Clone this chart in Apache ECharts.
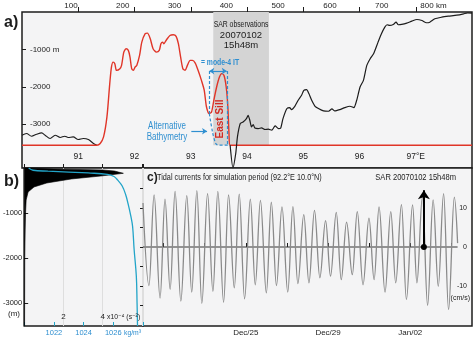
<!DOCTYPE html>
<html><head><meta charset="utf-8">
<script src="https://cdn.jsdelivr.net/npm/echarts/dist/echarts.min.js"></script>
<style>html,body{margin:0;padding:0;background:#fff}#c{width:474px;height:339px}</style>
</head><body><div id="c"></div>
<script>
// ---------- Panel a : bathymetry section (lon °E, depth m) ----------
const lonTicks = [91, 92, 93, 94, 95, 96, 97];
const kmTicks = [100, 200, 300, 400, 500, 600, 700, 800];
const depthTicksA = [-1000, -2000, -3000];
const bathyLonL = [90.00, 90.08, 90.17, 90.26, 90.35, 90.41, 90.50, 90.59, 90.68, 90.76, 90.82, 90.91, 91.00, 91.09, 91.18, 91.27, 91.33];
const bathyDepthL = [-3293, -3248, -3320, -3267, -3232, -3293, -3381, -3293, -3355, -3320, -3355, -3339, -3408, -3381, -3408, -3515, -3560];
const modelLon = [90.00, 91.33, 91.39, 91.45, 91.51, 91.56, 91.59, 91.62, 91.65, 91.68, 91.74, 91.77, 91.81, 91.85, 91.89, 91.92, 91.95, 91.98, 92.01, 92.04, 92.09, 92.13, 92.19, 92.23, 92.28, 92.33, 92.39, 92.44, 92.47, 92.50, 92.52, 92.57, 92.63, 92.69, 92.74, 92.78, 92.82, 92.86, 92.90, 92.94, 92.99, 93.03, 93.08, 93.13, 93.19, 93.24, 93.28, 93.33, 93.37, 93.41, 93.46, 93.51, 93.55, 93.59, 93.63, 93.66, 93.68, 93.70, 98.00];
const modelDepth = [-3560, -3560, -3515, -3339, -2805, -1915, -1472, -1339, -1381, -1560, -1515, -1427, -1072, -981, -1027, -1205, -1515, -1560, -1472, -1427, -1160, -805, -581, -565, -715, -981, -1072, -1027, -848, -805, -848, -741, -627, -608, -653, -848, -1205, -1515, -1560, -1427, -1293, -1293, -1365, -1560, -1827, -2093, -2539, -2715, -2672, -2360, -2005, -1739, -1648, -1693, -2005, -2539, -3248, -3560, -3560];
const bathyLonR = [93.70, 93.75, 93.80, 93.83, 93.88, 93.93, 93.99, 94.02, 94.05, 94.08, 94.11, 94.14, 94.20, 94.26, 94.32, 94.38, 94.44, 94.50, 94.56, 94.60, 94.64, 94.71, 94.76, 94.79, 94.85, 94.91, 94.97, 95.01, 95.06, 95.10, 95.15, 95.21, 95.27, 95.36, 95.45, 95.51, 95.56, 95.65, 95.74, 95.83, 95.90, 95.95, 96.01, 96.07, 96.13, 96.19, 96.25, 96.33, 96.39, 96.45, 96.49, 96.54, 96.60, 96.65, 96.69, 96.75, 96.84, 96.93, 97.02, 97.11, 97.19, 97.25, 97.34, 97.46, 97.58, 97.73, 97.85, 97.92, 98.00];
const bathyDepthR = [-3560, -4170, -3781, -3339, -2981, -2939, -2848, -2760, -2893, -3072, -3008, -3099, -3115, -3099, -3141, -3133, -3160, -3045, -3115, -3099, -2850, -2581, -2555, -2608, -2520, -2360, -2227, -2093, -2075, -2181, -2360, -2520, -2581, -2645, -2653, -2592, -2645, -2608, -2555, -2520, -2555, -2360, -2005, -1827, -1427, -1248, -1115, -805, -581, -405, -341, -360, -333, -272, -341, -333, -299, -245, -200, -227, -288, -272, -181, -139, -112, -85, -48, -21, -32];
const altLon = [93.33, 93.37, 93.41, 93.46, 93.52, 93.70];
const altDepth = [-2715, -3072, -3355, -3541, -3560, -3560];
const modelBaseDepth = -3560;
const sarBand = [93.40, 94.39];
const bracketLon = [93.33, 93.64];
const bracketDepth = -1580;
const altArrow = [[93.01, -3187], [93.29, -3187]];

// ---------- Panel b : N^2 (1e-4 s^-2) and density profiles ----------
const depthTicksB = [-1000, -2000, -3000];
const n2Depth = [0, -22, -44, -67, -90, -118, -178, -244, -333, -422, -533, -711, -1000, -1377, -2000, -3510];
const n2Val = [0.2, 1.5, 4.0, 4.6, 4.8, 5.05, 3.9, 2.4, 1.15, 0.5, 0.2, 0.1, 0.07, 0.05, 0.03, 0.02];
const rhoDepth = [0, -50, -70, -90, -110, -140, -190, -270, -400, -600, -800, -1050, -1300, -1800, -2400, -3000, -3510];
const rhoVal = [1020.3, 1020.6, 1021.6, 1023.0, 1024.3, 1025.6, 1026.05, 1026.3, 1026.6, 1026.84, 1027.0, 1027.17, 1027.3, 1027.4, 1027.55, 1027.6, 1027.63];

// ---------- Panel c : tidal current (days since Dec 20 2006, cm/s) ----------
const tideDay = [0.00, 0.29, 0.54, 0.83, 1.07, 1.32, 1.56, 1.84, 2.13, 2.37, 2.62, 2.86, 3.14, 3.40, 3.64, 3.92, 4.16, 4.44, 4.68, 4.94, 5.22, 5.46, 5.71, 6.00, 6.24, 6.49, 6.76, 7.04, 7.29, 7.53, 7.82, 8.07, 8.34, 8.60, 8.88, 9.12, 9.40, 9.64, 9.90, 10.18, 10.42, 10.70, 10.99, 11.24, 11.48, 11.77, 12.05, 12.29, 12.57, 12.81, 13.11, 13.32, 13.59, 13.84, 14.11, 14.36, 14.62, 14.86, 15.14, 15.30];
const tideVel = [11.3, -9.9, 13.4, -13.1, 12.3, -10.9, 14.3, -13.9, 13.2, -11.6, 14.5, -14.5, 13.7, -11.4, 14.3, -14.2, 13.4, -10.5, 13.6, -13.3, 12.3, -9.7, 12.0, -11.8, 11.5, -9.9, 10.3, -11.6, 10.4, -9.4, 8.3, -9.2, 9.4, -7.9, 6.8, -7.5, 8.9, -8.4, 6.4, -7.1, 9.1, -9.7, 7.4, -8.4, 10.3, -11.6, 9.1, -9.2, 10.9, -13.5, 10.8, -9.2, 13.0, -15.0, 12.1, -10.1, 13.7, -16.1, 12.8, 1.0];
const dayTicks = [1, 3, 5, 7, 9, 11, 13, 15];
const dayLabelVals = [5, 9, 13];
const dayLabelText = ['Dec/25', 'Dec/29', 'Jan/02'];
const velTicks = [-15, -10, -5, 0, 5, 10, 15];
const velLabels = [-10, 0, 10];
const sarDay = 13.66;
const sarArrowTop = 14.6;

// ---------- styling ----------
const SANS = '"Liberation Sans","DejaVu Sans",sans-serif';
const INK = '#1c1c1c';
const RED = '#e03528';
const BLUE = '#2f8fd0';
const CYAN = '#22a4c8';

const zip = (a, b) => a.map((v, i) => [v, b[i]]);
const lab = (extra) => Object.assign({ fontFamily: SANS, fontSize: 8, color: INK }, extra);
const gridStyle = { show: true, backgroundColor: '#f4f4f5', borderColor: INK, borderWidth: 1.5 };
const txt = (x, y, text, font, fill, extra, sx) => Object.assign({
  type: 'text', x: x, y: y, z: 100, scaleX: sx || 1,
  style: Object.assign({ text: text, font: font, fill: fill, verticalAlign: 'middle' }, extra || {})
});

const option = {
  animation: false,
  backgroundColor: '#ffffff',
  textStyle: { fontFamily: SANS },
  grid: [
    Object.assign({ left: 22, top: 12, width: 450, height: 156 }, gridStyle),
    Object.assign({ left: 22, top: 168, width: 121, height: 158 }, gridStyle),
    Object.assign({ left: 143, top: 168, width: 329, height: 158 }, gridStyle)
  ],
  xAxis: [
    { gridIndex: 0, type: 'value', min: 90, max: 98, position: 'bottom',
      axisLine: { show: false }, splitLine: { show: false },
      axisTick: { inside: true, length: 5, customValues: lonTicks, lineStyle: { color: INK } },
      axisLabel: lab({ inside: true, margin: 7, fontSize: 8.5, customValues: lonTicks, formatter: v => v === 97 ? '97°E' : String(v) }) },
    { gridIndex: 0, type: 'value', min: 5.4, max: 874.4, position: 'top',
      axisLine: { show: false }, splitLine: { show: false }, axisTick: { show: false },
      axisLabel: lab({ margin: 2, customValues: kmTicks, formatter: v => v === 800 ? '800 km' : String(v) }) },
    { gridIndex: 1, type: 'value', min: 0, max: 6.05, interval: 2, position: 'bottom',
      axisLine: { show: false }, splitLine: { show: true, lineStyle: { color: '#dedede', width: 1 } },
      axisTick: { inside: true, length: 4, lineStyle: { color: INK } },
      axisLabel: lab({ inside: true, margin: 5, formatter: v => (v === 2 || v === 4) ? String(v) : '' }) },
    { gridIndex: 1, type: 'value', min: 1020, max: 1028, interval: 2, position: 'bottom',
      axisLine: { show: false }, splitLine: { show: false },
      axisTick: { inside: true, length: 4, lineStyle: { color: CYAN } },
      axisLabel: lab({ margin: 3, fontSize: 7.5, color: BLUE, formatter: v => (v > 1020 && v < 1028) ? String(v) : '' }) },
    { gridIndex: 2, type: 'value', min: 0, max: 16, position: 'bottom',
      axisLine: { show: false }, splitLine: { show: false },
      axisTick: { inside: true, length: 4, customValues: dayTicks, lineStyle: { color: INK } },
      axisLabel: lab({ margin: 3, fontSize: 8, customValues: dayLabelVals, formatter: v => dayLabelText[dayLabelVals.indexOf(v)] || '' }) }
  ],
  yAxis: [
    { gridIndex: 0, type: 'value', min: -4170, max: 0,
      axisLine: { show: false }, splitLine: { show: false },
      axisTick: { inside: true, length: 4, customValues: depthTicksA, lineStyle: { color: INK } },
      axisLabel: lab({ inside: true, margin: 8, customValues: depthTicksA, formatter: v => v === -1000 ? '-1000 m' : String(v) }) },
    { gridIndex: 1, type: 'value', min: -3510, max: 0,
      axisLine: { show: false }, splitLine: { show: false },
      axisTick: { inside: true, length: 4, customValues: depthTicksB, lineStyle: { color: INK } },
      axisLabel: lab({ margin: 2, fontSize: 7.5, customValues: depthTicksB, formatter: v => String(v) }) },
    { gridIndex: 2, type: 'value', min: -20.3, max: 20.3, position: 'right',
      axisLine: { show: false }, splitLine: { show: false },
      axisTick: { inside: true, length: 3, customValues: velTicks, lineStyle: { color: INK } },
      axisLabel: lab({ inside: true, margin: 5, fontSize: 7, customValues: velLabels, formatter: v => String(v) }) }
  ],
  series: [
    { type: 'line', xAxisIndex: 0, yAxisIndex: 0, data: zip(bathyLonL, bathyDepthL),
      symbol: 'none', smooth: 0.3, lineStyle: { color: INK, width: 1.1 },
      markArea: { silent: true, itemStyle: { color: '#d4d4d4' },
        data: [[{ coord: [sarBand[0], 0] }, { coord: [sarBand[1], modelBaseDepth] }]] } },
    { type: 'line', xAxisIndex: 0, yAxisIndex: 0, data: zip(modelLon, modelDepth),
      symbol: 'none', smooth: 0.25, lineStyle: { color: RED, width: 1.4 } },
    { type: 'line', xAxisIndex: 0, yAxisIndex: 0, data: zip(bathyLonR, bathyDepthR),
      symbol: 'none', smooth: 0.2, lineStyle: { color: INK, width: 1.2 } },
    { type: 'line', xAxisIndex: 0, yAxisIndex: 0, data: zip(altLon, altDepth),
      symbol: 'none', smooth: 0.4, lineStyle: { color: BLUE, width: 1.2, type: [3, 2] },
      markLine: { silent: true, symbol: ['none', 'none'], symbolSize: 5, label: { show: false },
        lineStyle: { color: BLUE, width: 1.2, type: [3, 2] },
        data: [
          [{ coord: [bracketLon[0], bracketDepth] }, { coord: [bracketLon[0], altDepth[0]] }],
          [{ coord: [bracketLon[1], bracketDepth] }, { coord: [bracketLon[1], modelBaseDepth] }],
          [{ coord: [bracketLon[0], bracketDepth], symbol: 'arrow', lineStyle: { type: 'solid', width: 1.2 } },
           { coord: [bracketLon[1], bracketDepth], symbol: 'arrow' }],
          [{ coord: altArrow[0], lineStyle: { type: 'solid', width: 1.2 } },
           { coord: altArrow[1], symbol: 'arrow' }]
        ] } },
    { type: 'custom', xAxisIndex: 2, yAxisIndex: 1, data: [[0, 0]], silent: true,
      renderItem: (params, api) => {
        const pts = [api.coord([0, n2Depth[0]])];
        n2Depth.forEach((d, i) => pts.push(api.coord([n2Val[i], d])));
        pts.push(api.coord([0, n2Depth[n2Depth.length - 1]]));
        return { type: 'polygon', shape: { points: pts }, style: { fill: '#000', stroke: '#000', lineWidth: 0.6 } };
      } },
    { type: 'line', xAxisIndex: 3, yAxisIndex: 1, data: zip(rhoVal, rhoDepth),
      symbol: 'none', smooth: 0.4, lineStyle: { color: CYAN, width: 1.3 } },
    { type: 'line', xAxisIndex: 4, yAxisIndex: 2,
      data: [[tideDay[0], 0], [tideDay[tideDay.length - 1], 0]],
      symbol: 'none', lineStyle: { color: '#333', width: 1 } },
    { type: 'line', xAxisIndex: 4, yAxisIndex: 2, data: zip(tideDay, tideVel),
      symbol: 'none', smooth: 0.38, smoothMonotone: 'x', lineStyle: { color: '#8a8a8a', width: 1.3 },
      markLine: { silent: true, label: { show: false }, lineStyle: { color: '#000', width: 2, type: 'solid' },
        data: [[{ coord: [sarDay, 0], symbol: 'circle', symbolSize: 6 },
                { coord: [sarDay, sarArrowTop], symbol: 'arrow', symbolSize: 9 }]] } }
  ],
  graphic: [
    txt(4, 23, 'a)', 'bold 16px ' + SANS, INK),
    txt(4, 182, 'b)', 'bold 16px ' + SANS, INK),
    txt(147, 178, 'c)', 'bold 12px ' + SANS, INK),
    txt(157, 178, 'Tidal currents for simulation period (92.2°E 10.0°N)', '9px ' + SANS, INK, null, 0.81),
    txt(456, 178, 'SAR 20070102 15h48m', '9px ' + SANS, INK, { align: 'right' }, 0.84),
    txt(241, 24, 'SAR observations', '9.5px ' + SANS, INK, { align: 'center' }, 0.72),
    txt(241, 35, '20070102', '9.5px ' + SANS, INK, { align: 'center' }),
    txt(241, 45, '15h48m', '9.5px ' + SANS, INK, { align: 'center' }),
    txt(220, 63, '= mode-4 IT', 'bold 9px ' + SANS, BLUE, { align: 'center' }, 0.76),
    txt(167, 126.5, 'Alternative', '10px ' + SANS, BLUE, { align: 'center' }, 0.8),
    txt(167, 137, 'Bathymetry', '10px ' + SANS, BLUE, { align: 'center' }, 0.8),
    Object.assign(txt(220, 119, 'East Sill', 'bold 10px ' + SANS, '#d42a22', { align: 'center' }), { rotation: Math.PI / 2 }),
    txt(20, 314, '(m)', '8px ' + SANS, INK, { align: 'right' }),
    txt(107, 317, 'x10⁻⁴ (s⁻²)', '8px ' + SANS, INK, null, 0.85),
    txt(124, 333, 'kg/m³', '8px ' + SANS, BLUE, null, 0.85),
    txt(470, 298, '(cm/s)', '7px ' + SANS, INK, { align: 'right' })
  ]
};

const chart = echarts.init(document.getElementById('c'), null, { renderer: 'canvas' });
chart.setOption(option);
</script></body></html>
